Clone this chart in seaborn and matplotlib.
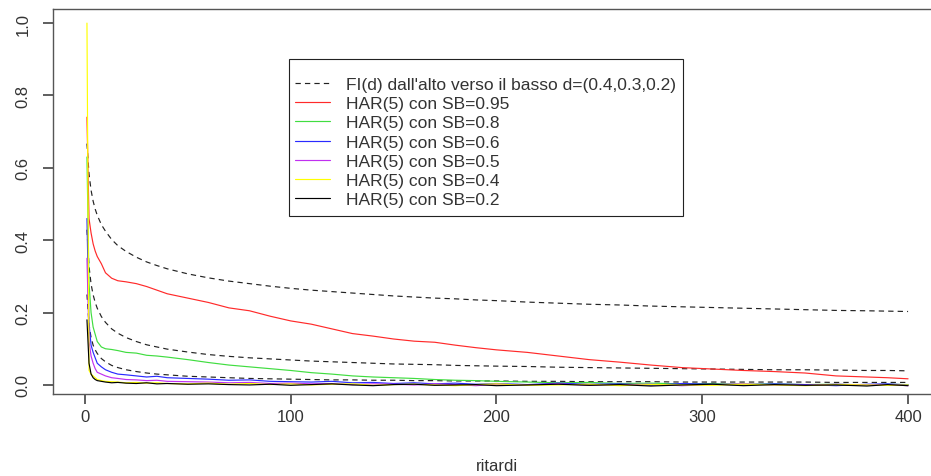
import numpy as np
import pandas as pd
import matplotlib
matplotlib.use("Agg")
import matplotlib.pyplot as plt
from matplotlib.lines import Line2D
from matplotlib.patches import Rectangle
import seaborn as sns

lags = [1, 2, 3, 4, 5, 6, 8, 10, 13, 16, 20, 25, 30, 35, 40, 50, 60, 70, 80, 90,
        100, 110, 120, 130, 140, 150, 160, 170, 180, 190, 200, 215, 230, 245, 260,
        275, 290, 305, 320, 335, 350, 365, 380, 390, 400]

# FI(d) autocorrelations, d = 0.4, 0.3, 0.2 (dashed)
fi_04 = [0.667, 0.583, 0.538, 0.508, 0.486, 0.469, 0.443, 0.425, 0.402, 0.385, 0.369,
         0.353, 0.340, 0.330, 0.321, 0.307, 0.296, 0.287, 0.280, 0.273, 0.267, 0.262,
         0.258, 0.254, 0.250, 0.246, 0.243, 0.240, 0.238, 0.235, 0.233, 0.229, 0.226,
         0.223, 0.221, 0.218, 0.216, 0.214, 0.212, 0.210, 0.208, 0.206, 0.205, 0.204, 0.203]
fi_03 = [0.429, 0.328, 0.279, 0.249, 0.228, 0.212, 0.189, 0.173, 0.155, 0.143, 0.131,
         0.120, 0.111, 0.105, 0.099, 0.091, 0.084, 0.079, 0.075, 0.072, 0.069, 0.066,
         0.064, 0.062, 0.060, 0.058, 0.057, 0.056, 0.054, 0.053, 0.052, 0.051, 0.049,
         0.048, 0.047, 0.046, 0.045, 0.044, 0.043, 0.042, 0.042, 0.041, 0.040, 0.040, 0.039]
fi_02 = [0.250, 0.167, 0.131, 0.110, 0.097, 0.087, 0.073, 0.064, 0.054, 0.048, 0.042,
         0.037, 0.033, 0.030, 0.028, 0.024, 0.022, 0.020, 0.018, 0.017, 0.016, 0.015,
         0.014, 0.014, 0.013, 0.013, 0.012, 0.012, 0.011, 0.011, 0.011, 0.010, 0.010,
         0.009, 0.009, 0.009, 0.008, 0.008, 0.008, 0.008, 0.008, 0.007, 0.007, 0.007, 0.007]

# HAR(5) sample autocorrelations for each SB
har_095 = [0.74, 0.46, 0.42, 0.39, 0.37, 0.355, 0.335, 0.31, 0.295, 0.288, 0.285,
           0.28, 0.272, 0.262, 0.252, 0.24, 0.228, 0.213, 0.205, 0.19, 0.177, 0.168,
           0.155, 0.142, 0.135, 0.127, 0.121, 0.118, 0.11, 0.103, 0.097, 0.09, 0.08,
           0.07, 0.063, 0.055, 0.048, 0.044, 0.04, 0.037, 0.033, 0.025, 0.022, 0.02, 0.017]
har_08 = [0.63, 0.28, 0.20, 0.16, 0.14, 0.12, 0.105, 0.10, 0.098, 0.095, 0.09,
          0.088, 0.082, 0.08, 0.077, 0.07, 0.062, 0.055, 0.05, 0.045, 0.04, 0.034,
          0.03, 0.025, 0.022, 0.02, 0.018, 0.015, 0.013, 0.012, 0.01, 0.008, 0.006,
          0.007, 0.004, 0.005, 0.003, 0.004, 0.002, 0.003, 0.001, 0.002, 0.0, 0.002, 0.001]
har_06 = [0.46, 0.17, 0.11, 0.09, 0.075, 0.06, 0.05, 0.042, 0.035, 0.03, 0.028,
          0.025, 0.022, 0.024, 0.02, 0.018, 0.016, 0.013, 0.014, 0.01, 0.009, 0.008,
          0.01, 0.006, 0.007, 0.004, 0.006, 0.003, 0.005, 0.002, 0.004, 0.001, 0.005,
          0.002, 0.003, -0.001, 0.004, 0.002, 0.0, 0.003, 0.001, -0.002, 0.002, 0.003, 0.0]
har_05 = [0.35, 0.12, 0.08, 0.06, 0.045, 0.035, 0.03, 0.025, 0.02, 0.018, 0.015,
          0.014, 0.012, 0.013, 0.01, 0.009, 0.008, 0.006, 0.007, 0.004, 0.005, 0.003,
          0.004, 0.001, 0.003, 0.002, 0.0, 0.003, 0.001, -0.002, 0.002, 0.0, 0.003,
          -0.001, 0.001, 0.002, -0.002, 0.001, 0.003, 0.0, -0.001, 0.002, 0.0, 0.001, -0.002]
har_04 = [1.0, 0.04, 0.03, 0.025, 0.02, 0.015, 0.012, 0.01, 0.009, 0.008, 0.006,
          0.007, 0.005, 0.006, 0.004, 0.003, 0.005, 0.002, 0.004, 0.001, 0.003, 0.0,
          0.002, 0.003, -0.001, 0.001, 0.002, 0.0, -0.002, 0.001, 0.003, -0.001, 0.0,
          0.002, -0.002, 0.001, 0.0, -0.001, 0.002, 0.0, -0.002, 0.001, 0.0, -0.001, 0.0]
har_02 = [0.18, 0.06, 0.03, 0.02, 0.015, 0.012, 0.01, 0.008, 0.006, 0.007, 0.005,
          0.004, 0.006, 0.003, 0.004, 0.002, 0.003, 0.001, 0.0, 0.002, -0.001, 0.001,
          0.003, 0.0, -0.002, 0.001, 0.002, -0.001, 0.0, 0.001, -0.002, 0.0, 0.002,
          -0.001, 0.001, -0.003, 0.0, 0.002, -0.002, 0.001, -0.001, 0.0, -0.003, 0.001, -0.002]

fi_series = [fi_04, fi_03, fi_02]
har_series = [har_095, har_08, har_06, har_05, har_04, har_02]
har_labels = ["HAR(5) con SB=0.95", "HAR(5) con SB=0.8", "HAR(5) con SB=0.6",
              "HAR(5) con SB=0.5", "HAR(5) con SB=0.4", "HAR(5) con SB=0.2"]
har_colors = ["#ff2a2a", "#40dd40", "#2a2aff", "#c030f0", "#ffff00", "#000000"]
fi_label = "FI(d) dall'alto verso il basso d=(0.4,0.3,0.2)"

sns.set_style("ticks")
plt.rcParams['font.family'] = ['Liberation Sans', 'DejaVu Sans']

fig = plt.figure(figsize=(9.31, 4.77), dpi=100)
ax = fig.add_axes([53/931, 82/477, 888/931, 385/477])

dash = (0, (4.5, 3.5))
for vals in fi_series:
    sns.lineplot(x=lags, y=vals, ax=ax, color="#222222", lw=0.85,
                 linestyle=dash, legend=False)
for vals, col in zip(har_series, har_colors):
    sns.lineplot(x=lags, y=vals, ax=ax, color=col, lw=0.85, legend=False)

ax.set_xlim(-15.5, 416)
ax.set_ylim(-0.025, 1.039)
ax.set_xticks([0, 100, 200, 300, 400])
ax.set_yticks([0.0, 0.2, 0.4, 0.6, 0.8, 1.0])
ax.set_yticklabels(["0.0", "0.2", "0.4", "0.6", "0.8", "1.0"], rotation=90, va="center")
ax.tick_params(axis="both", which="major", direction="out", length=7, width=1.1,
               color="#333333", labelsize=12, labelcolor="#333333",
               bottom=True, left=True, top=False, right=False)
ax.tick_params(axis="x", pad=4)
ax.tick_params(axis="y", pad=9)
for s in ax.spines.values():
    s.set_visible(True)
    s.set_color("#555555")
    s.set_linewidth(1.0)

ax.set_xlabel("ritardi", fontsize=12, color="#333333")
ax.set_ylabel("")
ax.xaxis.set_label_coords((497 - 53) / 888, -72 / 385)
ax.xaxis.label.set_va("center")

# legend box as a plain rectangle behind the legend entries
ax.add_patch(Rectangle((289 / 931, 1 - 217 / 477), 394 / 931, 157 / 477,
                       transform=fig.transFigure, facecolor="white",
                       edgecolor="#222222", lw=0.8, zorder=4, clip_on=False))
handles = [Line2D([], [], color="#222222", lw=0.85, linestyle=dash)]
handles += [Line2D([], [], color=c, lw=0.85) for c in har_colors]
leg = ax.legend(handles, [fi_label] + har_labels, loc="upper left",
                bbox_to_anchor=((295 - 53) / 888, 1 - (78 - 10) / 385), borderaxespad=0,
                fontsize=12.5, frameon=False, handlelength=2.0, handletextpad=0.95,
                labelspacing=0.23, borderpad=0)
leg.set_zorder(5)
for t in leg.get_texts():
    t.set_color("#333333")

fig.savefig("out.png", dpi=100)
